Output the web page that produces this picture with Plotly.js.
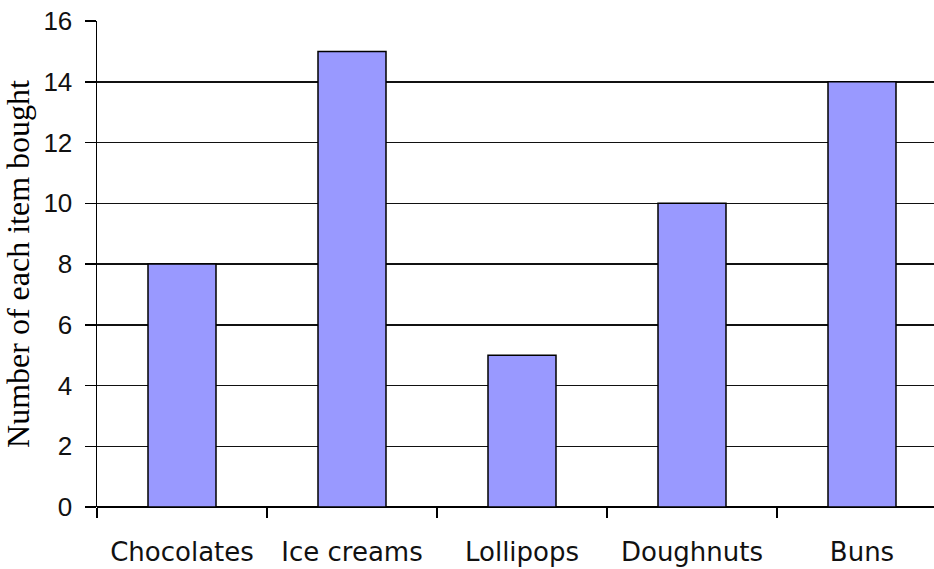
<!DOCTYPE html>
<html><head><meta charset="utf-8">
<script src="https://cdn.plot.ly/plotly-3.0.1.min.js"></script>
<style>html,body{margin:0;padding:0;background:#fff}#chart{width:934px;height:569px}</style>
</head><body><div id="chart"></div>
<script>
const categories = ["Chocolates", "Ice creams", "Lollipops", "Doughnuts", "Buns"];
const counts = [8, 15, 5, 10, 14];
const yTicks = [0, 2, 4, 6, 8, 10, 12, 14, 16];

Plotly.newPlot('chart', [{
  type: 'bar', x: categories, y: counts,
  marker: {color: '#9999ff', line: {color: '#000000', width: 1.5}},
  hoverinfo: 'skip'
}], {
  width: 934, height: 569,
  margin: {l: 97, r: 0, t: 21, b: 62},
  paper_bgcolor: '#ffffff', plot_bgcolor: '#ffffff',
  bargap: 0.6,
  showlegend: false,
  xaxis: {
    tickson: 'boundaries', ticks: 'outside', ticklen: 10, tickwidth: 1.5, tickcolor: '#000',
    showline: false, showgrid: false, zeroline: false,
    ticklabelstandoff: 27,
    tickfont: {family: 'DejaVu Sans', size: 26, color: '#111'},
    range: [-0.5, 4.4235]
  },
  yaxis: {
    range: [0, 16], tickvals: yTicks, ticktext: yTicks.map(String),
    ticks: 'outside', ticklen: 11, tickwidth: 1.5, tickcolor: '#000',
    showline: true, linecolor: '#000', linewidth: 1.5,
    showgrid: true, gridcolor: '#111', gridwidth: 1.5,
    zeroline: true, zerolinecolor: '#000', zerolinewidth: 1.5,
    ticklabelstandoff: 7,
    tickfont: {family: 'Liberation Sans, Arial', size: 26, color: '#111'},
    title: {text: 'Number of each item bought', font: {family: 'Liberation Serif, Times New Roman', size: 32, color: '#000'}, standoff: 10}
  }
}, {displayModeBar: false, staticPlot: true});
</script></body></html>
